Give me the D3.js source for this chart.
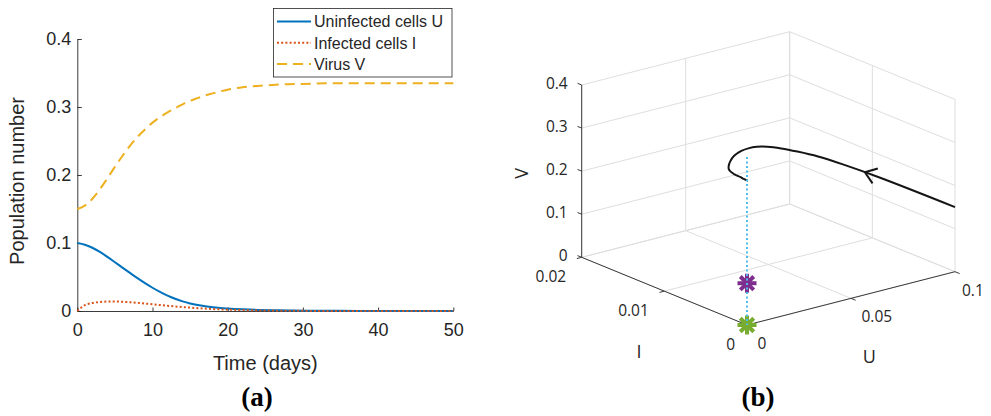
<!DOCTYPE html>
<html>
<head>
<meta charset="utf-8">
<script src="https://cdn.jsdelivr.net/npm/d3@7"></script>
<style>
  body { margin: 0; background: #fff; }
  svg { display: block; }
</style>
</head>
<body>
<svg id="chart" width="991" height="416"></svg>
<script>
// ---- Model output (time in days) ----
const days = [0, 1, 2, 3, 4, 5, 6, 7, 8, 9, 10, 11, 12, 13, 14, 15, 16, 17, 18, 19, 20, 22, 24, 26, 28, 30, 35, 40, 45, 50];
const uninfected = [0.100, 0.0975, 0.093, 0.087, 0.0795, 0.0717, 0.0638, 0.056, 0.0483, 0.041, 0.0342, 0.028, 0.0226, 0.018, 0.0142, 0.0111, 0.0087, 0.0069, 0.0055, 0.0045, 0.0037, 0.0025, 0.0016, 0.0011, 0.0007, 0.0005, 0.0002, 0.0001, 0, 0];
const infected = [0, 0.0085, 0.0118, 0.0133, 0.0139, 0.0139, 0.0136, 0.0129, 0.0120, 0.0110, 0.0099, 0.0088, 0.0077, 0.0067, 0.0058, 0.0050, 0.0042, 0.0035, 0.0029, 0.0024, 0.0020, 0.0014, 0.0009, 0.0006, 0.0004, 0.0002, 0.0001, 0, 0, 0];
const virus = [0.150, 0.155, 0.165, 0.179, 0.195, 0.212, 0.228, 0.243, 0.256, 0.267, 0.277, 0.285, 0.292, 0.298, 0.304, 0.309, 0.313, 0.317, 0.320, 0.323, 0.3255, 0.329, 0.331, 0.3325, 0.3335, 0.334, 0.335, 0.335, 0.335, 0.335];

const seriesNames = ["Uninfected cells U", "Infected cells I", "Virus V"];

// Axis ticks
const timeTicks = [0, 10, 20, 30, 40, 50];
const popTicks = [0, 0.1, 0.2, 0.3, 0.4];
const uTicks = [0, 0.05, 0.1];
const iTicks = [0, 0.01, 0.02];
const vTicks = [0, 0.1, 0.2, 0.3, 0.4];

// Equilibrium markers (U, I, V) and the vertical guide through them
const eqU = [0, 0];
const eqI = [0, 0];
const eqV = [0.097, 0];
const eqColors = ["#7E2F8E", "#77AC30"];
const guideV = [0, 0.39];
const arrowDay = 1.4;

const svg = d3.select("#chart");
const axisColor = "#262626";
const sansFont = "'Liberation Sans', Arial, Helvetica, sans-serif";
const font3d = "'Open Sans', 'Noto Sans', sans-serif";

// ================= Panel (a): time series =================
const x = d3.scaleLinear().domain([0, 50]).range([77.3, 453.3]);
const y = d3.scaleLinear().domain([0, 0.4]).range([311, 39]);
const pa = svg.append("g");

const xAxis = pa.append("g")
  .attr("transform", `translate(0,${y(0)})`)
  .call(d3.axisBottom(x).tickValues(timeTicks).tickFormat(d3.format("d"))
    .tickSizeInner(-3.5).tickSizeOuter(0).tickPadding(12));
const yAxis = pa.append("g")
  .attr("transform", `translate(${x(0)},0)`)
  .call(d3.axisLeft(y).tickValues(popTicks).tickFormat(d => d === 0 ? "0" : d3.format(".1f")(d))
    .tickSizeInner(-4.5).tickSizeOuter(0).tickPadding(6));
[xAxis, yAxis].forEach(g => {
  g.selectAll("path, line").attr("stroke", axisColor).attr("stroke-width", 0.9);
  g.selectAll("text").attr("fill", axisColor).style("font-family", sansFont).style("font-size", "18px");
});

pa.append("text")
  .attr("x", x(25)).attr("y", 370)
  .attr("text-anchor", "middle")
  .style("font-family", sansFont).style("font-size", "20px").attr("fill", axisColor)
  .text("Time (days)");
pa.append("text")
  .attr("transform", `translate(24,181) rotate(-90)`)
  .attr("text-anchor", "middle")
  .style("font-family", sansFont).style("font-size", "20px").attr("fill", axisColor)
  .text("Population number");

const seriesStyles = [
  { values: uninfected, color: "#0072BD", dash: null },
  { values: infected, color: "#D95319", dash: "2 2.2" },
  { values: virus, color: "#EDB120", dash: "10 6" }
];
const tsLine = d3.line().curve(d3.curveMonotoneX);
seriesStyles.forEach(s => {
  pa.append("path")
    .attr("d", tsLine(days.map((d, k) => [x(d), y(s.values[k])])))
    .attr("fill", "none")
    .attr("stroke", s.color)
    .attr("stroke-width", 2)
    .attr("stroke-dasharray", s.dash);
});

// Legend
const legend = pa.append("g");
legend.append("rect")
  .attr("x", 273.5).attr("y", 8.5).attr("width", 178.5).attr("height", 68.5)
  .attr("fill", "#fff").attr("stroke", axisColor).attr("stroke-width", 0.8);
seriesNames.forEach((name, k) => {
  const ly = 21.5 + k * 21.3;
  legend.append("line")
    .attr("x1", 277).attr("x2", 311).attr("y1", ly).attr("y2", ly)
    .attr("stroke", seriesStyles[k].color).attr("stroke-width", 2)
    .attr("stroke-dasharray", seriesStyles[k].dash);
  legend.append("text")
    .attr("x", 314).attr("y", ly + 5.8)
    .style("font-family", sansFont).style("font-size", "16px").attr("fill", axisColor)
    .text(name);
});

// ================= Panel (b): phase portrait in (U, I, V) =================
const origin = [747, 325];
const uVec = [208, -53.3], iVec = [-165.3, -67.7], vVec = [0, -172.3];
const su = d3.scaleLinear().domain([0, 0.1]).range([0, 1]);
const si = d3.scaleLinear().domain([0, 0.02]).range([0, 1]);
const sv = d3.scaleLinear().domain([0, 0.4]).range([0, 1]);
function proj(u, i, v) {
  const a = su(u), b = si(i), c = sv(v);
  return [origin[0] + a * uVec[0] + b * iVec[0] + c * vVec[0],
          origin[1] + a * uVec[1] + b * iVec[1] + c * vVec[1]];
}
const pb = svg.append("g");
const gridG = pb.append("g").attr("stroke", "#dedede").attr("stroke-width", 1);
function seg(g, p, q) {
  g.append("line").attr("x1", p[0]).attr("y1", p[1]).attr("x2", q[0]).attr("y2", q[1]);
}
const uMax = 0.1, iMax = 0.02, vMax = 0.4;
// back wall I = iMax
vTicks.forEach(v => seg(gridG, proj(0, iMax, v), proj(uMax, iMax, v)));
uTicks.forEach(u => seg(gridG, proj(u, iMax, 0), proj(u, iMax, vMax)));
// back wall U = uMax
vTicks.forEach(v => seg(gridG, proj(uMax, 0, v), proj(uMax, iMax, v)));
iTicks.forEach(i => seg(gridG, proj(uMax, i, 0), proj(uMax, i, vMax)));
// floor V = 0
uTicks.forEach(u => seg(gridG, proj(u, 0, 0), proj(u, iMax, 0)));
iTicks.forEach(i => seg(gridG, proj(0, i, 0), proj(uMax, i, 0)));

// axis lines
const axG = pb.append("g").attr("stroke", "#3a3a3a").attr("stroke-width", 1);
seg(axG, proj(0, 0, 0), proj(uMax, 0, 0));
seg(axG, proj(0, 0, 0), proj(0, iMax, 0));
seg(axG, proj(0, iMax, 0), proj(0, iMax, vMax));

function unit(vec) { const L = Math.hypot(vec[0], vec[1]); return [vec[0] / L, vec[1] / L]; }
const uDir = unit(uVec), iDir = unit(iVec);
const tickLen = 5;
uTicks.forEach(u => { const p = proj(u, 0, 0); seg(axG, p, [p[0] - iDir[0] * tickLen, p[1] - iDir[1] * tickLen]); });
iTicks.forEach(i => { const p = proj(0, i, 0); seg(axG, p, [p[0] - uDir[0] * tickLen, p[1] - uDir[1] * tickLen]); });
vTicks.forEach(v => { const p = proj(0, iMax, v); seg(axG, p, [p[0] + iDir[0] * 4.5, p[1] + iDir[1] * 4.5]); });

const tickFmt = d => d === 0 ? "0" : String(d);
const lab3 = (xx, yy, txt, anchor) => pb.append("text")
  .attr("x", xx).attr("y", yy).attr("text-anchor", anchor)
  .style("font-family", font3d).style("font-size", "15.5px").attr("fill", axisColor)
  .text(txt);
vTicks.forEach(v => { const p = proj(0, iMax, v); lab3(p[0] - 14, p[1] + 3.5, tickFmt(v), "end"); });
iTicks.forEach(i => { const p = proj(0, i, 0); lab3(p[0] - (i === 0 ? 12 : 15.5), p[1] + 24.5, tickFmt(i), "end"); });
uTicks.forEach(u => { const p = proj(u, 0, 0); lab3(p[0] + (u === uMax ? 7 : 10.5), p[1] + 24, tickFmt(u), "start"); });

const axisLab = (xx, yy, txt, rot) => pb.append("text")
  .attr("transform", `translate(${xx},${yy})` + (rot ? " rotate(-90)" : ""))
  .attr("text-anchor", "middle")
  .style("font-family", font3d).style("font-size", "18px").attr("fill", axisColor)
  .text(txt);
axisLab(528, 173.3, "V", true);
axisLab(639, 358, "I", false);
axisLab(869.3, 362.5, "U", false);

// trajectory
const pts = days.map((d, k) => proj(uninfected[k], infected[k], virus[k]));
pb.append("path")
  .attr("d", d3.line().curve(d3.curveCatmullRom.alpha(0.5))(pts))
  .attr("fill", "none").attr("stroke", "#151515").attr("stroke-width", 2)
  .attr("stroke-linejoin", "round");

// direction arrow
const atDay = arr => d3.scaleLinear().domain(days).range(arr);
const fu = atDay(uninfected), fi = atDay(infected), fv = atDay(virus);
const tip = proj(fu(arrowDay), fi(arrowDay), fv(arrowDay));
const prev = proj(fu(arrowDay - 0.3), fi(arrowDay - 0.3), fv(arrowDay - 0.3));
const back = unit([prev[0] - tip[0], prev[1] - tip[1]]);
const ang = 36 * Math.PI / 180, headLen = 13.5;
[ang, -ang].forEach(a => {
  const dx = back[0] * Math.cos(a) - back[1] * Math.sin(a);
  const dy = back[0] * Math.sin(a) + back[1] * Math.cos(a);
  pb.append("line")
    .attr("x1", tip[0]).attr("y1", tip[1])
    .attr("x2", tip[0] + dx * headLen).attr("y2", tip[1] + dy * headLen)
    .attr("stroke", "#151515").attr("stroke-width", 2);
});

// equilibrium markers
eqV.forEach((v, k) => {
  const c = proj(eqU[k], eqI[k], v);
  const r = 9.5;
  const g = pb.append("g").attr("stroke", eqColors[k]).attr("stroke-width", 4);
  for (let j = 0; j < 4; j++) {
    const a = j * Math.PI / 4;
    seg(g, [c[0] - r * Math.cos(a), c[1] - r * Math.sin(a)], [c[0] + r * Math.cos(a), c[1] + r * Math.sin(a)]);
  }
});

// vertical guide through the equilibria
const gTop = proj(0, 0, guideV[1]), gBot = proj(0, 0, guideV[0]);
pb.append("line")
  .attr("x1", gTop[0]).attr("y1", gTop[1]).attr("x2", gBot[0]).attr("y2", gBot[1])
  .attr("stroke", "#4DBEEE").attr("stroke-width", 2).attr("stroke-dasharray", "2 2.5");

// panel captions
[["(a)", 257], ["(b)", 758]].forEach(([txt, cx]) => {
  svg.append("text")
    .attr("x", cx).attr("y", 406).attr("text-anchor", "middle")
    .style("font-family", "'Liberation Serif', 'Times New Roman', serif")
    .style("font-weight", "bold").style("font-size", "27px").attr("fill", "#000")
    .text(txt);
});
</script>
</body>
</html>
